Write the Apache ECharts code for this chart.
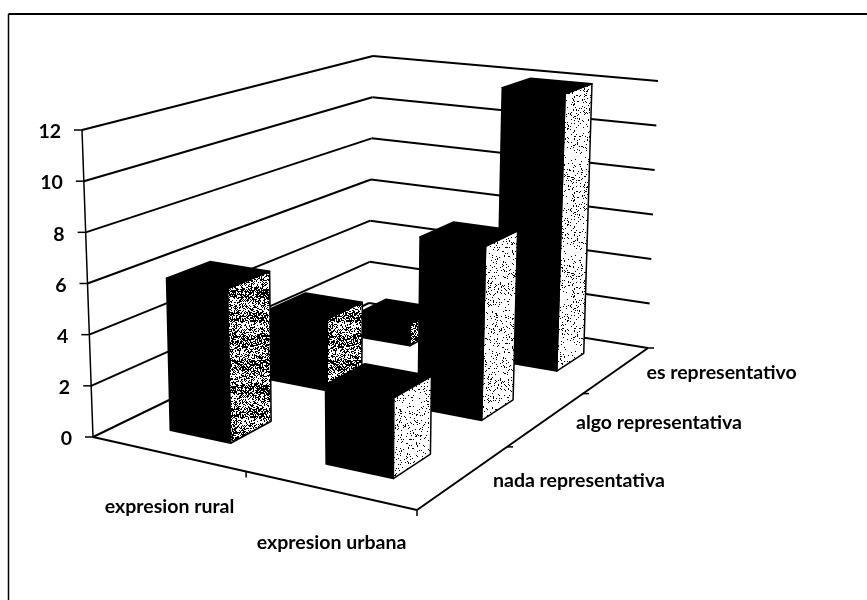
<!DOCTYPE html>
<html>
<head>
<meta charset="utf-8">
<style>html,body{margin:0;padding:0;background:#fff}#chart{width:867px;height:600px}</style>
<script src="https://cdn.jsdelivr.net/npm/echarts@6/dist/echarts.min.js"></script>
</head>
<body>
<div id="chart"></div>
<script>
var categories = ['expresion rural', 'expresion urbana'];
var depths = ['nada representativa', 'algo representativa', 'es representativo'];
var yTicks = [0, 2, 4, 6, 8, 10, 12];
var nada = [6, 3];
var algo = [3, 7];
var es = [1, 12];

// box corners on screen: [front left, front right, back right, back left]
var floorQuad = [[93, 437], [417, 510], [648, 348], [369, 303]];
var topQuad = [[82, 130], [420, 176], [658, 81], [373, 56]];

// unit square -> quad (perspective)
function homography(q) {
  var dx1 = q[1][0] - q[2][0], dx2 = q[3][0] - q[2][0], sx = q[0][0] - q[1][0] + q[2][0] - q[3][0];
  var dy1 = q[1][1] - q[2][1], dy2 = q[3][1] - q[2][1], sy = q[0][1] - q[1][1] + q[2][1] - q[3][1];
  var d = dx1 * dy2 - dx2 * dy1;
  var g = (sx * dy2 - dx2 * sy) / d, h = (dx1 * sy - sx * dy1) / d;
  var a = q[1][0] - q[0][0] + g * q[1][0], b = q[3][0] - q[0][0] + h * q[3][0];
  var e = q[1][1] - q[0][1] + g * q[1][1], f = q[3][1] - q[0][1] + h * q[3][1];
  return function (u, v) {
    var w = g * u + h * v + 1;
    return [(a * u + b * v + q[0][0]) / w, (e * u + f * v + q[0][1]) / w];
  };
}
var floorH = homography(floorQuad);
var topH = homography(topQuad);

// u: along categories, v: into depth, t: 0..1 of the value axis
function project(u, v, t) {
  var p = floorH(u, v), q = topH(u, v);
  return [p[0] + (q[0] - p[0]) * t, p[1] + (q[1] - p[1]) * t];
}

// scanned-looking stipple for the side faces
function stipple(darkShare, streak) {
  var c = document.createElement('canvas');
  c.width = 96; c.height = 96;
  var ctx = c.getContext('2d');
  ctx.fillStyle = '#fff';
  ctx.fillRect(0, 0, 96, 96);
  ctx.fillStyle = '#000';
  var s = 12345;
  for (var y = 0; y < 96; y++) {
    var share = darkShare * (streak && (y % 24) < 10 ? 1.5 : 1);
    for (var x = 0; x < 96; x++) {
      s = (s * 1103515245 + 12345) & 0x7fffffff;
      if ((s >> 8) % 1000 < share * 1000) ctx.fillRect(x, y, 1, 1);
    }
  }
  return c;
}
var sidePatterns = [
  { image: stipple(0.42, true), repeat: 'repeat' },
  { image: stipple(0.1, false), repeat: 'repeat' }
];

var gapU = 0.3, gapV = 0.3;

var barData = [];
[es, algo, nada].forEach(function (list, k) {
  list.forEach(function (val, i) {
    barData.push([i, val, 2 - k]);
  });
});

function face(points, fill) {
  return {
    type: 'polygon',
    shape: { points: points },
    style: { fill: fill, stroke: '#000', lineWidth: 1.5, lineJoin: 'round' }
  };
}

function renderBar(params, api) {
  var sys = params.coordSys;
  var p = api.coord([api.value(0), api.value(1)]);
  var band = api.size([1, 0])[0] / sys.width;
  var uc = (p[0] - sys.x) / sys.width;
  var t = (sys.y + sys.height - p[1]) / sys.height;
  var z = api.value(2);
  var u0 = uc - band / 2 + band * gapU, u1 = uc + band / 2 - band * gapU;
  var v0 = (z + gapV) / depths.length, v1 = (z + 1 - gapV) / depths.length;
  var a = project(u0, v0, 0), b = project(u1, v0, 0), c = project(u1, v1, 0);
  var a2 = project(u0, v0, t), b2 = project(u1, v0, t), c2 = project(u1, v1, t), d2 = project(u0, v1, t);
  return {
    type: 'group',
    children: [
      face([b, c, c2, b2], sidePatterns[api.value(0)]),
      face([a, b, b2, a2], '#000'),
      face([a2, b2, c2, d2], '#000')
    ]
  };
}

function line(a, b, w) {
  return {
    type: 'line',
    shape: { x1: a[0], y1: a[1], x2: b[0], y2: b[1] },
    style: { stroke: '#000', lineWidth: w }
  };
}

function label(text, x, y, align) {
  return {
    type: 'text',
    style: {
      text: text, x: x, y: y, align: align, verticalAlign: 'middle',
      font: 'bold 19.5px Lato', fill: '#000'
    }
  };
}

function renderWalls(params, api) {
  var sys = params.coordSys;
  var val = api.value(0);
  var t = (sys.y + sys.height - api.coord([0, val])[1]) / sys.height;
  var a = project(0, 0, t), d = project(0, 1, t), c = project(1, 1, t);
  return {
    type: 'group',
    children: [
      line(a, d, 2), line(d, c, 2),
      line([a[0] - 8, a[1]], a, 1.5),
      label(String(val), a[0] - 21, a[1] + 2, 'right')
    ]
  };
}

function renderFrame() {
  var kids = [
    line([8.5, 14], [867, 14], 2),
    line([8.5, 14], [8.5, 600], 1.5),
    line(project(0, 0, 0), project(0, 0, 1), 1.5),
    line(project(0, 0, 0), project(1, 0, 0), 2),
    line(project(1, 0, 0), project(1, 1, 0), 2)
  ];
  categories.forEach(function (name, i) {
    var p0 = project(i / categories.length, 0, 0), p1 = project((i + 1) / categories.length, 0, 0);
    kids.push(line(p1, [p1[0], p1[1] + 6], 1.5));
    kids.push(label(name, (p0[0] + p1[0]) / 2, (p0[1] + p1[1]) / 2 + 52, 'center'));
  });
  depths.forEach(function (name, j) {
    var p0 = project(1, j / depths.length, 0), p1 = project(1, (j + 1) / depths.length, 0);
    kids.push(line(p1, [p1[0] + 6, p1[1]], 1.5));
    kids.push(label(name, (p0[0] + p1[0]) / 2 + 31, (p0[1] + p1[1]) / 2 + 2, 'left'));
  });
  return { type: 'group', children: kids };
}

var chart = echarts.init(document.getElementById('chart'), null, { renderer: 'canvas' });
chart.setOption({
  backgroundColor: '#fff',
  animation: false,
  grid: { left: 0, right: 0, top: 0, bottom: 0 },
  xAxis: { type: 'category', data: categories, show: false },
  yAxis: { type: 'value', min: 0, max: 12, interval: 2, show: false },
  series: [
    {
      type: 'custom', renderItem: renderWalls, clip: false, silent: true,
      data: yTicks.map(function (v) { return [v]; }),
      encode: { x: 0, y: 0 }
    },
    {
      type: 'custom', renderItem: renderFrame, clip: false, silent: true,
      data: [[0]]
    },
    {
      type: 'custom', renderItem: renderBar, clip: false, silent: true,
      data: barData,
      encode: { x: 0, y: 1 }
    }
  ]
});
</script>
</body>
</html>
